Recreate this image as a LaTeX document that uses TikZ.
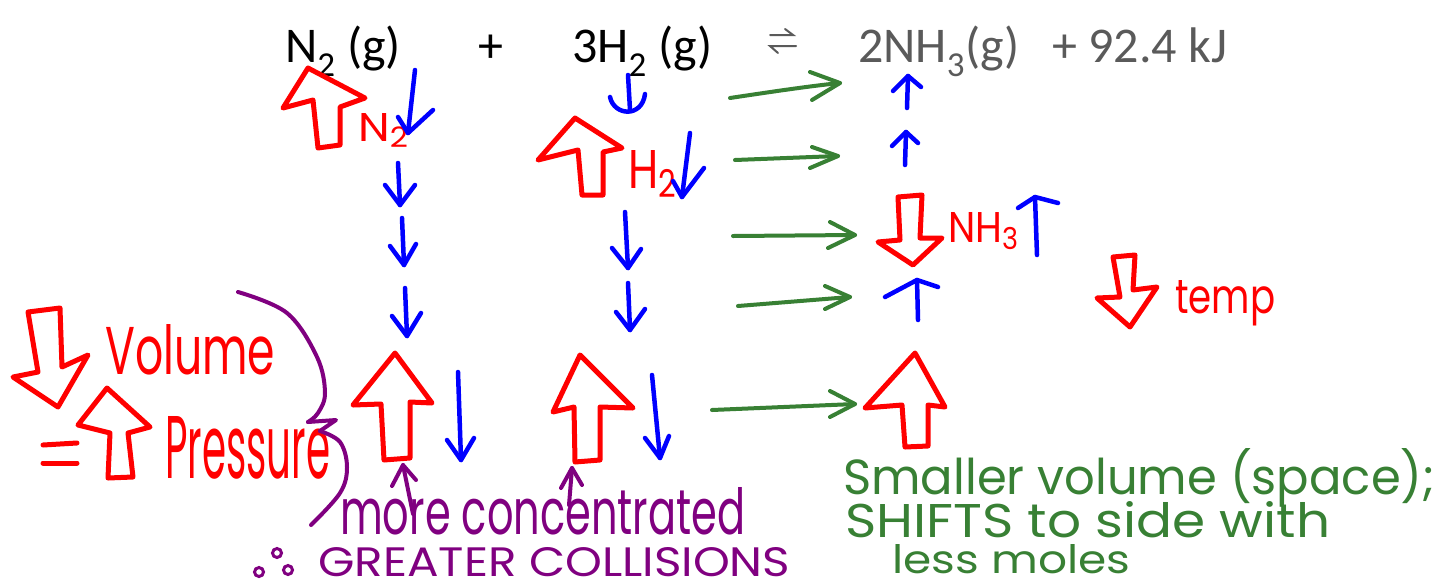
\documentclass[tikz,border=0pt]{standalone}
\usepackage{fontspec}
\usepackage{graphicx}
\setmainfont{Carlito}
\newfontfamily\handfont{Poppins}
\definecolor{pred}{RGB}{255,0,0}
\definecolor{pblue}{RGB}{0,0,255}
\definecolor{pgreen}{RGB}{56,128,52}
\definecolor{ppurple}{RGB}{128,0,128}
\definecolor{pgrey}{RGB}{90,90,90}
\newcommand\hw[3]{\resizebox{#1pt}{#2pt}{\handfont #3}}
\tikzset{
  hollow/.style={draw=pred, line width=5pt, line join=round, line cap=round},
  bluearr/.style={draw=pblue, line width=4.5pt, line join=round, line cap=round},
  greenarr/.style={draw=pgreen, line width=4pt, line join=round, line cap=round},
  purparr/.style={draw=ppurple, line width=4pt, line join=round, line cap=round},
  txt/.style={inner sep=0pt, anchor=base west},
  eq/.style={inner sep=0pt, anchor=base west, font=\fontsize{50}{60}\selectfont},
}
\begin{document}
\begin{tikzpicture}[x=1pt,y=-1pt]
\useasboundingbox[fill=white] (0,0) rectangle (1442,587);

% ---- equation ----
\node[eq] (n2) at (285,62) {N\textsubscript{2} (g)};
\node[eq] (plus) at (478,62) {+};
\node[eq] (h2) at (572,62) {3H\textsubscript{2} (g)};
\node[eq, text=pgrey] (nh3) at (858,62) {2NH\textsubscript{3}(g)};
\node[eq, text=pgrey] (kj) at (1052,62) {+ 92.4 kJ};
\draw[pgrey, line width=2pt, line cap=round] (785,29) -- (793,35) -- (770,35);
\draw[pgrey, line width=2pt, line cap=round] (796,46) -- (770,46) -- (778,53);

% ---- red hollow arrows ----
% N2 up
\draw[hollow] (308,68) -- (283,108) -- (313,100) -- (318,148) -- (340,145) -- (340,107) -- (365,98) -- cycle;
\node[txt, text=pred] (n2lab) at (358,141) {\hw{52}{28}{N\textsubscript{2}}};
% H2 up
\draw[hollow] (575,118) -- (538,160) -- (578,150) -- (582,195) -- (603,195) -- (603,152) -- (622,148) -- cycle;
\node[txt, text=pred] (h2lab) at (628,188) {\hw{50}{38}{H\textsubscript{2}}};
% NH3 down
\draw[hollow] (898,197) -- (922,195) -- (920,238) -- (942,238) -- (913,265) -- (878,242) -- (900,240) -- cycle;
\node[txt, text=pred] (nh3lab) at (948,242) {\hw{72}{30}{NH\textsubscript{3}}};
% temp down
\draw[hollow] (1113,257) -- (1135,255) -- (1133,290) -- (1157,287) -- (1130,327) -- (1097,298) -- (1120,297) -- cycle;
\node[txt, text=pred] (temp) at (1175,313) {\hw{100}{33}{temp}};
% Volume down
\draw[hollow] (28,312) -- (60,308) -- (62,367) -- (88,355) -- (58,407) -- (13,377) -- (38,372) -- cycle;
\node[txt, text=pred] (vol) at (105,374) {\hw{170}{50}{Volume}};
% = and Pressure up
\draw[hollow] (43,445) -- (77,443);
\draw[hollow] (43,463) -- (77,463);
\draw[hollow] (107,388) -- (150,427) -- (128,433) -- (133,477) -- (108,478) -- (110,433) -- (78,425) -- cycle;
\node[txt, text=pred] (press) at (165,478) {\hw{165}{62}{Pressure}};
% bottom up arrows
\draw[hollow] (395,353) -- (353,405) -- (381,404) -- (384,460) -- (410,458) -- (410,402) -- (432,403) -- cycle;
\draw[hollow] (580,355) -- (553,412) -- (574,407) -- (575,462) -- (600,460) -- (600,407) -- (633,408) -- cycle;
\draw[hollow] (915,353) -- (865,408) -- (902,405) -- (905,447) -- (928,446) -- (928,405) -- (945,407) -- cycle;

% ---- blue arrows ----
% N2 column
\draw[bluearr] (415,70) -- (408,133);
\draw[bluearr] (398,117) -- (408,133) -- (433,110);
\draw[bluearr] (398,163) -- (400,205);
\draw[bluearr] (385,185) -- (400,205) -- (415,185);
\draw[bluearr] (402,218) -- (404,265);
\draw[bluearr] (390,246) -- (404,265) -- (416,244);
\draw[bluearr] (405,288) -- (407,336);
\draw[bluearr] (392,316) -- (407,336) -- (421,313);
\draw[bluearr] (458,372) -- (461,460);
\draw[bluearr] (447,440) -- (461,460) -- (474,438);
% H2 column
\draw[bluearr] (628,75) -- (630,110);
\draw[bluearr] (610,97) .. controls (614,116) and (642,118) .. (645,94);
\draw[bluearr] (690,133) -- (682,197);
\draw[bluearr] (673,181) -- (682,197) -- (704,168);
\draw[bluearr] (625,212) -- (628,268);
\draw[bluearr] (612,248) -- (628,268) -- (641,249);
\draw[bluearr] (628,283) -- (630,330);
\draw[bluearr] (616,312) -- (630,330) -- (645,309);
\draw[bluearr] (652,375) -- (660,458);
\draw[bluearr] (645,438) -- (660,458) -- (669,436);
% NH3 column
\draw[bluearr] (907,108) -- (908,76);
\draw[bluearr] (893,91) -- (908,76) -- (921,87);
\draw[bluearr] (905,165) -- (906,132);
\draw[bluearr] (892,146) -- (906,132) -- (918,143);
\draw[bluearr] (1037,255) -- (1035,197);
\draw[bluearr] (1018,208) -- (1035,197) -- (1058,203);
\draw[bluearr] (918,320) -- (917,280);
\draw[bluearr] (885,297) -- (917,280) -- (938,287);

% ---- green arrows ----
\draw[greenarr] (730,98) .. controls (770,92) and (810,86) .. (840,83);
\draw[greenarr] (810,72) -- (840,83) -- (812,100);
\draw[greenarr] (735,160) -- (838,156);
\draw[greenarr] (812,147) -- (838,156) -- (810,168);
\draw[greenarr] (733,236) -- (855,235);
\draw[greenarr] (830,222) -- (855,235) -- (828,248);
\draw[greenarr] (738,306) -- (850,297);
\draw[greenarr] (825,286) -- (850,297) -- (825,309);
\draw[greenarr] (712,410) -- (855,404);
\draw[greenarr] (830,391) -- (855,404) -- (830,417);

% ---- purple ----
\draw[purparr] plot[smooth, tension=0.6] coordinates {(238,292) (287,313) (317,357) (325,393) (318,413) (308,422)};
\draw[purparr] (308,422) -- (336,420) -- (320,431);
\draw[purparr] plot[smooth, tension=0.6] coordinates {(320,431) (340,442) (347,467) (340,493) (311,525)};
\draw[purparr] (413,514) -- (403,465);
\draw[purparr] (392,486) -- (403,465) -- (416,480);
\draw[purparr] (569,505) -- (572,468);
\draw[purparr] (561,488) -- (572,468) -- (582,485);
\draw[ppurple, line width=3pt] (259,572) circle (4.5);
\draw[ppurple, line width=3pt] (277,553) circle (4.5);
\draw[ppurple, line width=3pt] (288,570) circle (4.5);
\node[txt, text=ppurple] (more) at (340,534) {\hw{405}{47}{more concentrated}};
\node[txt, text=ppurple] (greater) at (318,576) {\hw{472}{29}{GREATER COLLISIONS}};

% ---- green text ----
\node[txt, text=pgreen] (small) at (843,494) {\hw{592}{46}{Smaller volume (space);}};
\node[txt, text=pgreen] (shifts) at (845,537) {\hw{485}{36}{SHIFTS to side with}};
\node[txt, text=pgreen] (less) at (892,573) {\hw{238}{29}{less moles}};
\end{tikzpicture}
\end{document}
